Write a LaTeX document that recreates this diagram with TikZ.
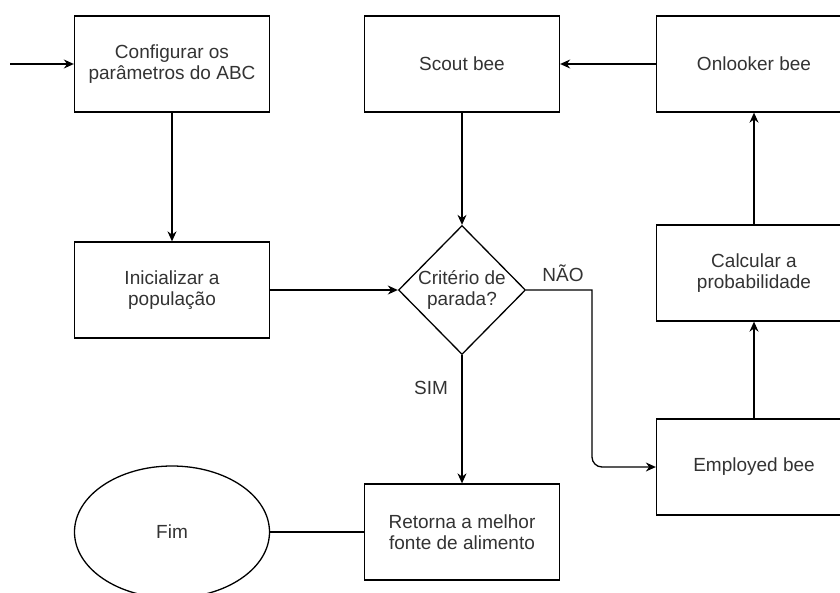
\documentclass[tikz,border=0pt]{standalone}
\usepackage{fontspec}
\setmainfont{Liberation Sans}
\usetikzlibrary{shapes.geometric,arrows.meta}
\definecolor{txt}{HTML}{333333}
\tikzset{
  txtfont/.style={text=txt, font=\fontsize{19}{21.5}\selectfont},
  box/.style={draw=black, line width=1.3pt, minimum width=195pt, minimum height=96pt,
              inner sep=2pt, align=center, txtfont},
  decide/.style={draw=black, line width=1.3pt, diamond, minimum width=127pt, minimum height=129pt,
              inner sep=0pt, align=center, txtfont},
  term/.style={draw=black, line width=1.3pt, ellipse, minimum width=195pt, minimum height=132pt,
              inner sep=0pt, txtfont},
  flow/.style={line width=1.3pt, -{Stealth[length=10pt,width=9pt]}},
  link/.style={line width=1.3pt},
  lbl/.style={txtfont}
}
\begin{document}
\begin{tikzpicture}[x=1pt,y=-1pt]
\useasboundingbox (0,0) rectangle (840,592);
\clip (0,0) rectangle (840,592);
\fill[white] (0,0) rectangle (840,592);

% process steps
\node[box] (cfg) at (172,64) {Configurar os\\parâmetros do ABC};
\node[box] (ini) at (172,290) {Inicializar a\\população};
\node[box] (scout) at (462,64) {Scout bee};
\node[box] (onl) at (754,64) {Onlooker bee};
\node[box] (prob) at (754,273) {Calcular a\\probabilidade};
\node[box] (emp) at (754,467) {Employed bee};
\node[box] (ret) at (462,532) {Retorna a melhor\\fonte de alimento};
\node[decide] (crit) at (462,290) {Critério de\\parada?};
\node[term] (fim) at (172,532) {Fim};

% entry point and corner of the "no" branch
\coordinate (start) at (10,64);
\coordinate (turn) at (592,290);

% connectors
\draw[flow] (start) -- (cfg.west);
\draw[flow] (cfg.south) -- (ini.north);
\draw[flow] (ini.east) -- (crit.west);
\draw[flow] (scout.south) -- (crit.north);
\draw[flow] (onl.west) -- (scout.east);
\draw[flow] (prob.north) -- (onl.south);
\draw[flow] (emp.north) -- (prob.south);
\draw[flow] (crit.south) -- (ret.north);
\draw[flow] (crit.east) -- (turn) [rounded corners=10pt] -- (turn |- emp.west) -- (emp.west);
\draw[link] (ret.west) -- (fim.east);

% branch labels
\node[lbl] (nao) at (563,273) {NÃO};
\node[lbl] (sim) at (431,388) {SIM};
\end{tikzpicture}
\end{document}
